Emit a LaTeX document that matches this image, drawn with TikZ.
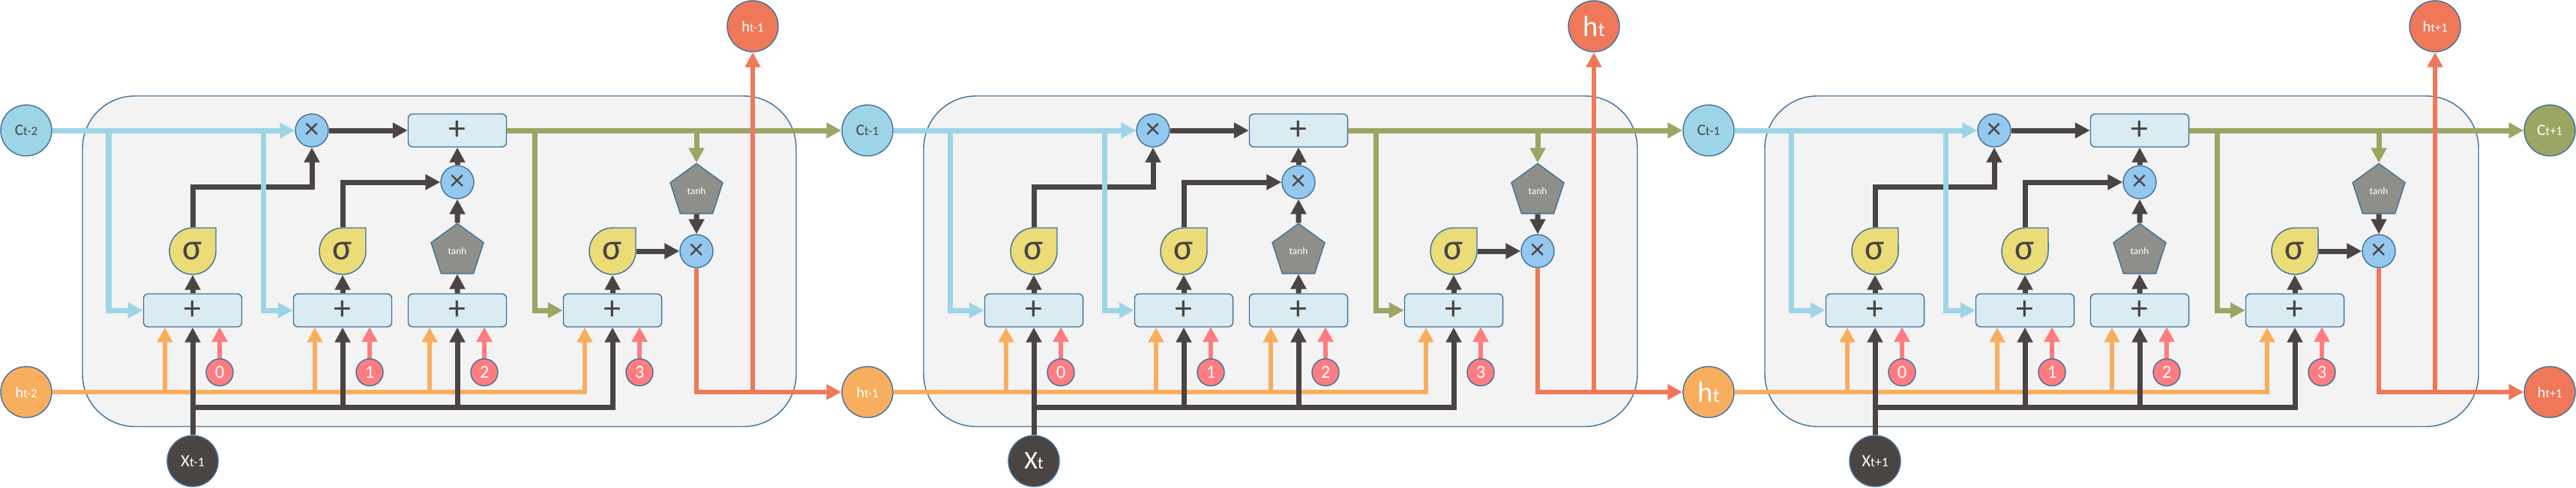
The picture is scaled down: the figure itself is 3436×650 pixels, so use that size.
\documentclass[tikz,border=0pt]{standalone}
\usepackage{fontspec}
\setmainfont{Carlito}
\usepackage{tikz}
\usetikzlibrary{
	arrows.meta,
	positioning,
	calc,
	shapes.geometric
}
\definecolor{cellbg}{HTML}{F3F3F3}
\definecolor{edgeblue}{HTML}{41719C}
\definecolor{cellcyan}{HTML}{9DD5E6}
\definecolor{multblue}{HTML}{94C8EE}
\definecolor{boxblue}{HTML}{DAECF2}
\definecolor{sigyellow}{HTML}{EBDC78}
\definecolor{tanhgray}{HTML}{8F8F89}
\definecolor{darkline}{HTML}{4A4443}
\definecolor{gateolive}{HTML}{9CA563}
\definecolor{hidorange}{HTML}{F8AE5F}
\definecolor{outred}{HTML}{EF7859}
\definecolor{biaspink}{HTML}{FF7C80}
\newcommand{\lblsub}[2]{{\fontsize{#1}{#1}\selectfont #2}}

\begin{document}
\begin{tikzpicture}[
    x=0.01cm, y=0.01cm,
    cellframe/.style={
        draw=edgeblue,
        fill=cellbg,
        line width=0.4pt,
        rounded corners=0.7cm
    },
    statec/.style={
        circle,
        minimum size=0.68cm,
        inner sep=0pt,
        draw=edgeblue,
        line width=0.4pt,
        fill=cellcyan,
        text=darkline,
        font=\fontsize{6}{6}\selectfont
    },
    hidc/.style={
        statec,
        fill=hidorange,
        text=white,
        font=\fontsize{5.8}{6}\selectfont
    },
    outc/.style={
        hidc,
        fill=outred
    },
    inc/.style={
        hidc,
        fill=darkline,
        font=\fontsize{6.5}{7}\selectfont
    },
    plusbox/.style={
        rectangle,
        rounded corners=0.06cm,
        draw=edgeblue,
        line width=0.4pt,
        fill=boxblue,
        minimum width=1.31cm,
        minimum height=0.44cm,
        inner sep=0pt,
        text=darkline,
        font=\fontsize{13}{13}\selectfont
    },
    mult/.style={
        circle,
        minimum size=0.44cm,
        inner sep=0pt,
        draw=edgeblue,
        line width=0.4pt,
        fill=multblue,
        text=darkline,
        font=\fontsize{11}{11}\selectfont
    },
    tanhgate/.style={
        regular polygon,
        regular polygon sides=5,
        minimum size=0.736cm,
        inner sep=0pt,
        draw=edgeblue,
        line width=0.4pt,
        fill=tanhgray,
        text=white,
        font=\fontsize{3.8}{4}\selectfont
    },
    sigshape/.style={
        draw=edgeblue,
        line width=0.4pt,
        fill=sigyellow
    },
    sigma/.style={
        rectangle,
        minimum width=0.62cm,
        minimum height=0.62cm,
        inner sep=0pt,
        text=darkline,
        font=\fontsize{14}{14}\selectfont
    },
    bias/.style={
        circle,
        minimum size=0.36cm,
        inner sep=0pt,
        draw=edgeblue,
        line width=0.4pt,
        fill=biaspink,
        text=white,
        font=\fontsize{7}{7}\selectfont
    },
    flow/.style={
        -{Triangle[length=0.2cm,width=0.2cm]},
        line width=0.07cm
    },
    cellarrow/.style={flow, draw=cellcyan},
    dkarrow/.style={flow, draw=darkline},
    gatearrow/.style={flow, draw=gateolive},
    hidarrow/.style={flow, draw=hidorange, line width=0.065cm},
    outarrow/.style={flow, draw=outred, line width=0.065cm},
    biasarrow/.style={flow, draw=biaspink, line width=0.065cm}
]
    \useasboundingbox (0,0) rectangle (3436,650);

    % ====== 状态节点: C, h, x ======
    \node[statec] (cin0) at (35,476) {C\lblsub{4.8}{t-2}};
    \node[statec] (cin1) at (1157,476) {C\lblsub{4.8}{t-1}};
    \node[statec] (cin2) at (2279,476) {C\lblsub{4.8}{t-1}};
    \node[statec, fill=gateolive, text=white] (cin3) at (3401,476) {C\lblsub{4.8}{t+1}};

    \node[hidc] (hin0) at (35,127) {h\lblsub{4.7}{t-2}};
    \node[hidc] (hin1) at (1157,127) {h\lblsub{4.7}{t-1}};
    \node[hidc, font=\fontsize{11}{11}\selectfont] (hin2) at (2279,127) {h\lblsub{7.5}{t}};
    \node[hidc, fill=outred] (hin3) at (3401,127) {h\lblsub{4.7}{t+1}};

    \node[outc] (hout1) at (1004,615) {h\lblsub{4.7}{t-1}};
    \node[outc, font=\fontsize{11}{11}\selectfont] (hout2) at (2126,615) {h\lblsub{7.5}{t}};
    \node[outc] (hout3) at (3248,615) {h\lblsub{4.7}{t+1}};

    \node[inc] (xin1) at (257,35) {X\lblsub{5}{t-1}};
    \node[inc, font=\fontsize{9.7}{10}\selectfont] (xin2) at (1379,35) {X\lblsub{6.5}{t}};
    \node[inc] (xin3) at (2501,35) {X\lblsub{5}{t+1}};

    % ====== 三个 LSTM 单元 ======
    \foreach \i/\j/\xo in {1/0/0, 2/1/1122, 3/2/2244} {
    \begin{scope}[shift={(\xo,0)}]
        % 单元边框
        \draw[cellframe] (110,81) rectangle (1062,522);

        % 加法框
        \node[plusbox] (pt\i) at (610,476) {+};
        \node[plusbox] (pa\i) at (257,236) {+};
        \node[plusbox] (pb\i) at (457,236) {+};
        \node[plusbox] (pc\i) at (610,236) {+};
        \node[plusbox] (pd\i) at (817,236) {+};

        % 乘法与 tanh
        \node[mult] (mt\i) at (416,476) {×};
        \node[mult] (mm\i) at (610,407) {×};
        \node[mult] (mr\i) at (929,315) {×};
        \node[tanhgate] (tc\i) at (610,315) {tanh};
        \node[tanhgate] (to\i) at (929,395) {tanh};

        % sigma 门
        \foreach \sx/\sn in {257/s1, 457/s2, 817/s3} {
            \draw[sigshape] (\sx+31,346) -- (\sx,346) arc[start angle=90, end angle=360, radius=0.31cm] -- cycle;
            \node[sigma] (\sn\i) at (\sx,315) {σ};
        }

        % 偏置编号
        \foreach \b/\k in {pa/0, pb/1, pc/2, pd/3}
            \node[bias] (n\k\i) at ($(\b\i.south)+(36,-60)$) {\k};

        % h 输入 (橙色)
        \draw[hidarrow] (hin\j.east) -| ($(pd\i.south)+(-37,0)$);
        \foreach \b in {pa, pb, pc}
            \draw[hidarrow] ($(\b\i.south)+(-37,-87)$) -- ($(\b\i.south)+(-37,0)$);

        % x 输入 (深色)
        \coordinate (xbar\i) at (257,107);
        \draw[dkarrow] (xin\i.north) -- (pa\i.south);
        \draw[dkarrow] (xbar\i) -| (pd\i.south);
        \draw[dkarrow] (pb\i.south |- xbar\i) -- (pb\i.south);
        \draw[dkarrow] (pc\i.south |- xbar\i) -- (pc\i.south);

        % 门之间的数据流
        \draw[dkarrow] (pa\i.north) -- (s1\i.south);
        \draw[dkarrow] (pb\i.north) -- (s2\i.south);
        \draw[dkarrow] (pc\i.north) -- (tc\i.south);
        \draw[dkarrow] (pd\i.north) -- (s3\i.south);
        \draw[dkarrow] (s1\i.north) -- (257,401) -| (mt\i.south);
        \draw[dkarrow] (s2\i.north) |- (mm\i.west);
        \draw[dkarrow] (tc\i.north) -- (mm\i.south);
        \draw[dkarrow] (mm\i.north) -- (pt\i.south);
        \draw[dkarrow] (mt\i.east) -- (pt\i.west);
        \draw[dkarrow] (to\i.south) -- (mr\i.north);
        \draw[dkarrow] (s3\i.east) -- (mr\i.west);

        % 细胞状态输入 (青色)
        \draw[cellarrow] (cin\j.east) -- (mt\i.west);
        \draw[cellarrow] (145,476) |- (pa\i.west);
        \draw[cellarrow] (351,476) |- (pb\i.west);

        % 新细胞状态 (橄榄色)
        \draw[gatearrow] (pt\i.east) -- (cin\i.west);
        \draw[gatearrow] (713,476) |- (pd\i.west);
        \draw[gatearrow] (to\i.north |- pt\i.east) -- (to\i.north);

        % 输出 h (红色)
        \draw[outarrow] (mr\i.south) |- (hin\i.west);
        \draw[outarrow] (hout\i.south |- hin\i.west) -- (hout\i.south);

        % 偏置箭头
        \foreach \k in {0, 1, 2, 3}
            \draw[biasarrow] (n\k\i.north) -- ++(0,42);
    \end{scope}
    }

\end{tikzpicture}
\end{document}
